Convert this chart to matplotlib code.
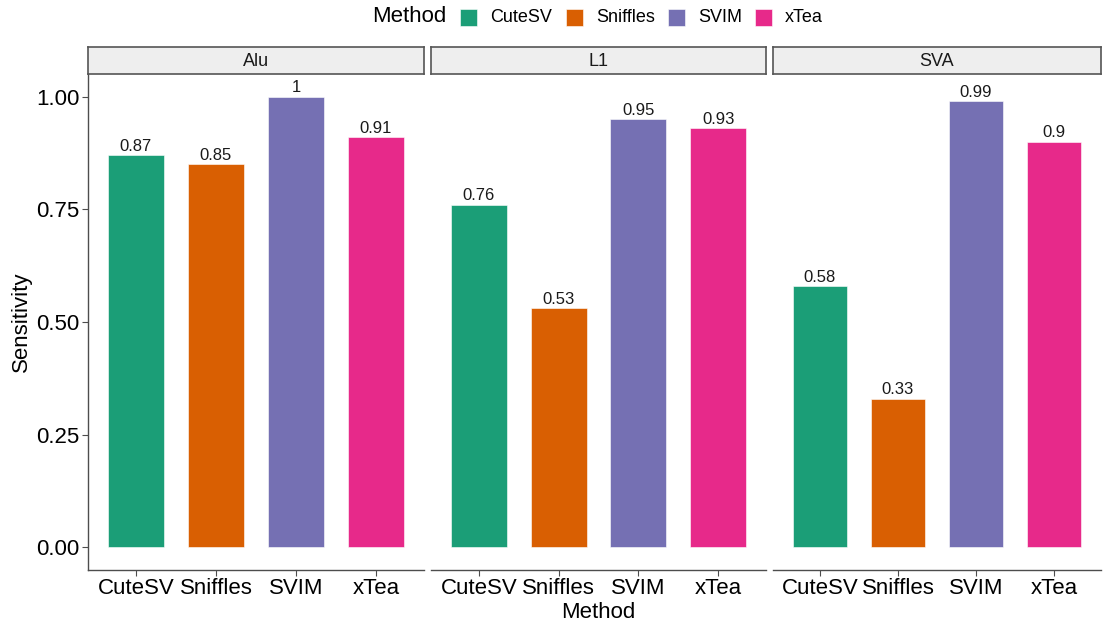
import matplotlib
matplotlib.use('Agg')
import matplotlib.pyplot as plt
from matplotlib.patches import Rectangle

plt.rcParams['font.family'] = ['Liberation Sans', 'DejaVu Sans']

# data
facets = ['Alu', 'L1', 'SVA']
methods = ['CuteSV', 'Sniffles', 'SVIM', 'xTea']
sens = {
    'Alu': [0.87, 0.85, 1.00, 0.91],
    'L1':  [0.76, 0.53, 0.95, 0.93],
    'SVA': [0.58, 0.33, 0.99, 0.90],
}
labels = {
    'Alu': ['0.87', '0.85', '1', '0.91'],
    'L1':  ['0.76', '0.53', '0.95', '0.93'],
    'SVA': ['0.58', '0.33', '0.99', '0.9'],
}
cols = ['#1B9E77', '#D95F02', '#7570B3', '#E7298A']

W, H = 1103, 626
fig = plt.figure(figsize=(W / 100, H / 100), dpi=100)

# panel extents in pixels (left, right)
panel_x = [(88, 424), (431, 766), (773, 1101)]
ytop, ybot = 74, 570
strip_top = 47
axc = '#4d4d4d'

for i, f in enumerate(facets):
    x0, x1 = panel_x[i]
    ax = fig.add_axes([x0 / W, 1 - ybot / H, (x1 - x0) / W, (ybot - ytop) / H])
    xs = range(1, len(methods) + 1)
    ax.bar(xs, sens[f], width=0.7, color=cols, edgecolor='white', linewidth=0.4)
    for x, v, t in zip(xs, sens[f], labels[f]):
        ax.text(x, v + 0.003, t, ha='center', va='bottom', fontsize=12, color='#1a1a1a')
    ax.set_xlim(0.4, 4.6)
    ax.set_ylim(-0.05, 1.05)
    ax.set_xticks(list(xs))
    ax.set_xticklabels(methods, fontsize=16, color='black')
    for s in ['top', 'right']:
        ax.spines[s].set_visible(False)
    ax.spines['bottom'].set_color(axc)
    ax.spines['bottom'].set_linewidth(1.0)
    ax.tick_params(axis='x', length=4, width=0.8, color=axc, pad=2)
    if i == 0:
        ax.spines['left'].set_color(axc)
        ax.spines['left'].set_linewidth(1.0)
        ax.set_yticks([0, 0.25, 0.5, 0.75, 1.0])
        ax.set_yticklabels(['0.00', '0.25', '0.50', '0.75', '1.00'], fontsize=16, color='black')
        ax.tick_params(axis='y', length=4, width=0.8, color=axc, pad=2)
        ax.set_ylabel('Sensitivity', fontsize=16, labelpad=3)
    else:
        ax.spines['left'].set_visible(False)
        ax.set_yticks([])
    if i == 1:
        ax.set_xlabel('Method', fontsize=16, labelpad=2)
    # strip
    sax = fig.add_axes([x0 / W, 1 - ytop / H, (x1 - x0) / W, (ytop - strip_top) / H])
    sax.set_xticks([])
    sax.set_yticks([])
    sax.set_facecolor('#EEEEEE')
    for s in sax.spines.values():
        s.set_color('#555555')
        s.set_linewidth(1.2)
    sax.text(0.5, 0.45, f, ha='center', va='center', fontsize=13, color='#1a1a1a',
             transform=sax.transAxes)

# legend on top
fig.text(372 / W, 1 - 17 / H, 'Method', fontsize=16, va='center', ha='left')
key_x = [460, 566, 668, 755]
for k, (m, c) in enumerate(zip(methods, cols)):
    fig.patches.append(Rectangle((key_x[k] / W, 1 - 26 / H), 17 / W, 17 / H,
                                 transform=fig.transFigure, facecolor=c,
                                 edgecolor='white', linewidth=0.4))
    fig.text((key_x[k] + 30) / W, 1 - 17 / H, m, fontsize=13, va='center', ha='left')

plt.savefig('out.png', dpi=100)
plt.close()
